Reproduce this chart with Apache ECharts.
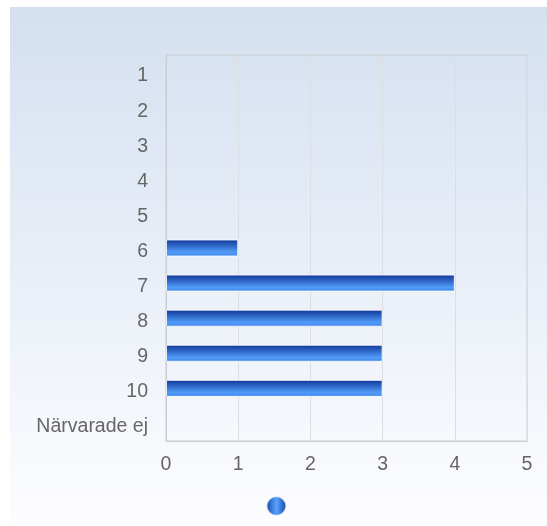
<!DOCTYPE html>
<html>
<head>
<meta charset="utf-8">
<script src="https://cdn.jsdelivr.net/npm/echarts@6/dist/echarts.min.js"></script>
<style>
html,body{margin:0;padding:0;background:#fff;width:547px;height:526px;overflow:hidden;}
#chart{position:absolute;left:10px;top:7px;width:537px;height:519px;}
</style>
</head>
<body>
<div id="chart"></div>
<script>
const categories = ['1','2','3','4','5','6','7','8','9','10','Närvarade ej'];
const values = [0,0,0,0,0,1,4,3,3,3,0];
const xTicks = [0,1,2,3,4,5];

const chart = echarts.init(document.getElementById('chart'));
const barGrad = new echarts.graphic.LinearGradient(0,0,0,1,[
  {offset:0,color:'#0d3596'},
  {offset:0.75,color:'#519bf8'},
  {offset:1,color:'#3f85ea'}
]);
const legendGrad = new echarts.graphic.LinearGradient(0,0,1,0,[
  {offset:0,color:'#0e3fa0'},
  {offset:0.5,color:'#5aa2ff'},
  {offset:1,color:'#0e3fa0'}
]);
const labelFont = 'Liberation Sans, Arial, sans-serif';
chart.setOption({
  backgroundColor: new echarts.graphic.LinearGradient(0,0,0,1,[
    {offset:0,color:'#d4e0f0'},
    {offset:1,color:'#fdfdff'}
  ]),
  animation:false,
  grid:{left:156,top:48,right:20,bottom:85,show:true,borderColor:'#c9ccd1',borderWidth:1,backgroundColor:'transparent'},
  legend:{
    top:488,left:'center',icon:'circle',itemWidth:20,itemHeight:20,padding:0,itemGap:0,
    data:[{name:' ',itemStyle:{color:legendGrad}}],
    textStyle:{fontSize:1}
  },
  xAxis:{
    type:'value',min:xTicks[0],max:xTicks[xTicks.length-1],interval:1,
    axisLine:{show:true,lineStyle:{color:'#c9ccd1'}},
    axisTick:{show:false},
    splitLine:{show:true,lineStyle:{color:'#dcdee2'}},
    axisLabel:{fontSize:19.5,color:'#666',margin:14,fontFamily:labelFont}
  },
  yAxis:{
    type:'category',data:categories,inverse:true,
    axisLine:{show:true,lineStyle:{color:'#c9ccd1'}},
    axisTick:{show:false},
    axisLabel:{
      margin:18,
      formatter: v => '{a|' + v + '}',
      rich:{a:{fontSize:19.5,color:'#666',fontFamily:labelFont,padding:[7,0,0,0]}}
    }
  },
  series:[{
    name:' ',type:'bar',data:values.map(v => v === 0 ? null : v),barWidth:17,
    itemStyle:{color:barGrad,borderColor:'rgba(255,255,255,0.8)',borderWidth:1}
  }]
});
</script>
</body>
</html>
